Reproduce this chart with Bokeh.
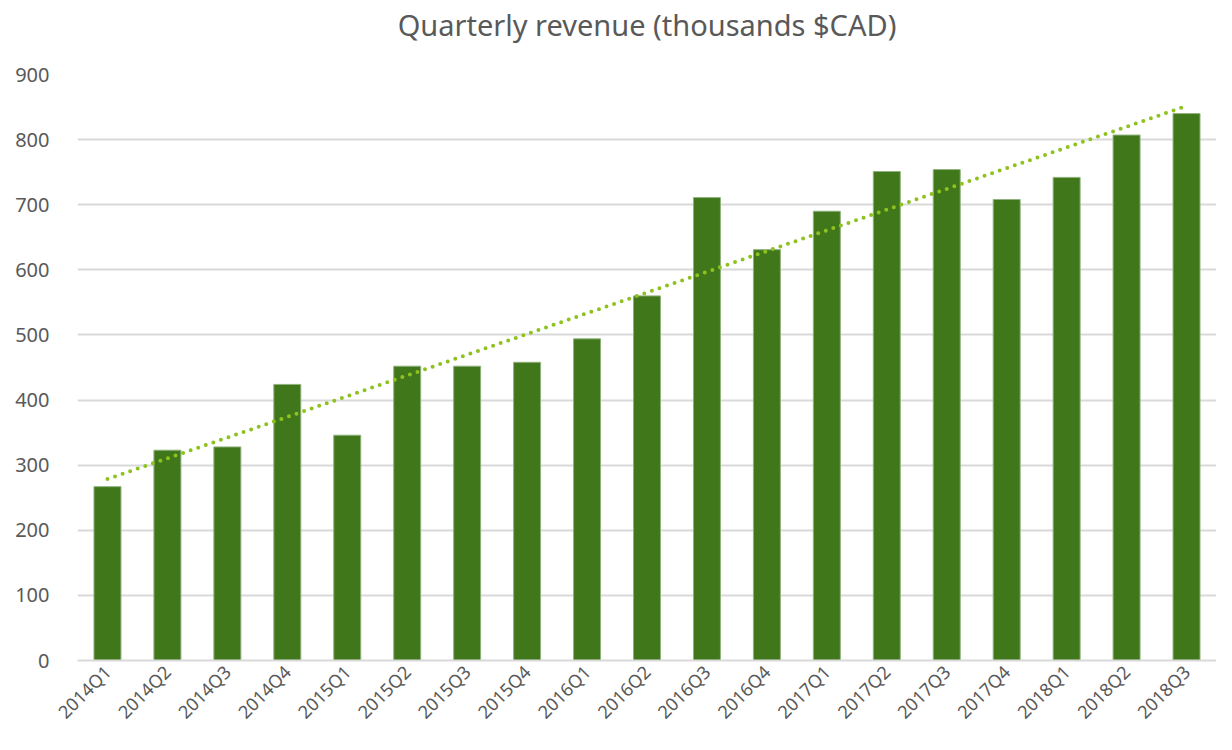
import numpy as np
from bokeh.plotting import figure
from bokeh.models import ColumnDataSource, Range1d, FactorRange, Title
from bokeh.embed import file_html
from bokeh.resources import INLINE
from math import pi

title_text = "Quarterly revenue (thousands $CAD)"
quarters = ["2014Q1", "2014Q2", "2014Q3", "2014Q4", "2015Q1", "2015Q2", "2015Q3", "2015Q4",
            "2016Q1", "2016Q2", "2016Q3", "2016Q4", "2017Q1", "2017Q2", "2017Q3", "2017Q4",
            "2018Q1", "2018Q2", "2018Q3"]
revenue = [267, 323, 328, 424, 346, 452, 452, 458, 494, 560, 711, 631, 690, 751, 754, 708,
           742, 807, 840]
y_ticks = [0, 100, 200, 300, 400, 500, 600, 700, 800, 900]

# linear trendline (least squares, as the spreadsheet trendline)
idx = np.arange(len(revenue))
slope, intercept = np.polyfit(idx, revenue, 1)
trend = list(slope * idx + intercept)

BAR = "#41771b"
EDGE = "#8fb27c"
TREND = "#8dc21f"
TXT = "#595959"
FONT = "Noto Sans"

p = figure(width=1216, height=734, x_range=FactorRange(*quarters, range_padding=0),
           y_range=Range1d(0, 900), output_backend="svg", toolbar_location=None)
p.min_border_left = 77
p.min_border_right = 0
p.min_border_top = 73
p.min_border_bottom = 65
p.outline_line_color = None
p.background_fill_color = "white"
p.border_fill_color = "white"

# spacer title (closest to the frame) then the real title above it
p.add_layout(Title(text=" ", text_font_size="21px", standoff=4), "above")
p.add_layout(Title(text=title_text, text_font=FONT, text_font_size="29px",
                   text_font_style="normal", text_color=TXT, align="center",
                   offset=-10, standoff=4), "above")

src = ColumnDataSource(dict(q=quarters, v=revenue, t=trend))
p.vbar(x="q", top="v", width=0.45, source=src, fill_color=BAR, line_color=EDGE, line_width=1)
p.line(x="q", y="t", source=src, line_color=TREND, line_width=4, line_dash="0 8",
       line_cap="round")

p.yaxis.ticker = y_ticks
p.yaxis.axis_line_color = None
p.yaxis.major_tick_line_color = None
p.yaxis.minor_tick_line_color = None
p.yaxis.major_label_text_font = FONT
p.yaxis.major_label_text_font_size = "20px"
p.yaxis.major_label_text_color = TXT
p.yaxis.major_label_standoff = 22

p.xaxis.axis_line_color = "#d9d9d9"
p.xaxis.axis_line_width = 2
p.xaxis.major_tick_line_color = None
p.xaxis.minor_tick_line_color = None
p.xaxis.major_label_orientation = pi / 4
p.xaxis.major_label_text_font = FONT
p.xaxis.major_label_text_font_size = "18px"
p.xaxis.major_label_text_color = TXT
p.xaxis.major_label_standoff = 2

p.xgrid.grid_line_color = None
p.ygrid.grid_line_color = "#d9d9d9"
p.ygrid.grid_line_width = 2
p.ygrid.ticker = y_ticks

open("out.html", "w").write(file_html(p, INLINE))
